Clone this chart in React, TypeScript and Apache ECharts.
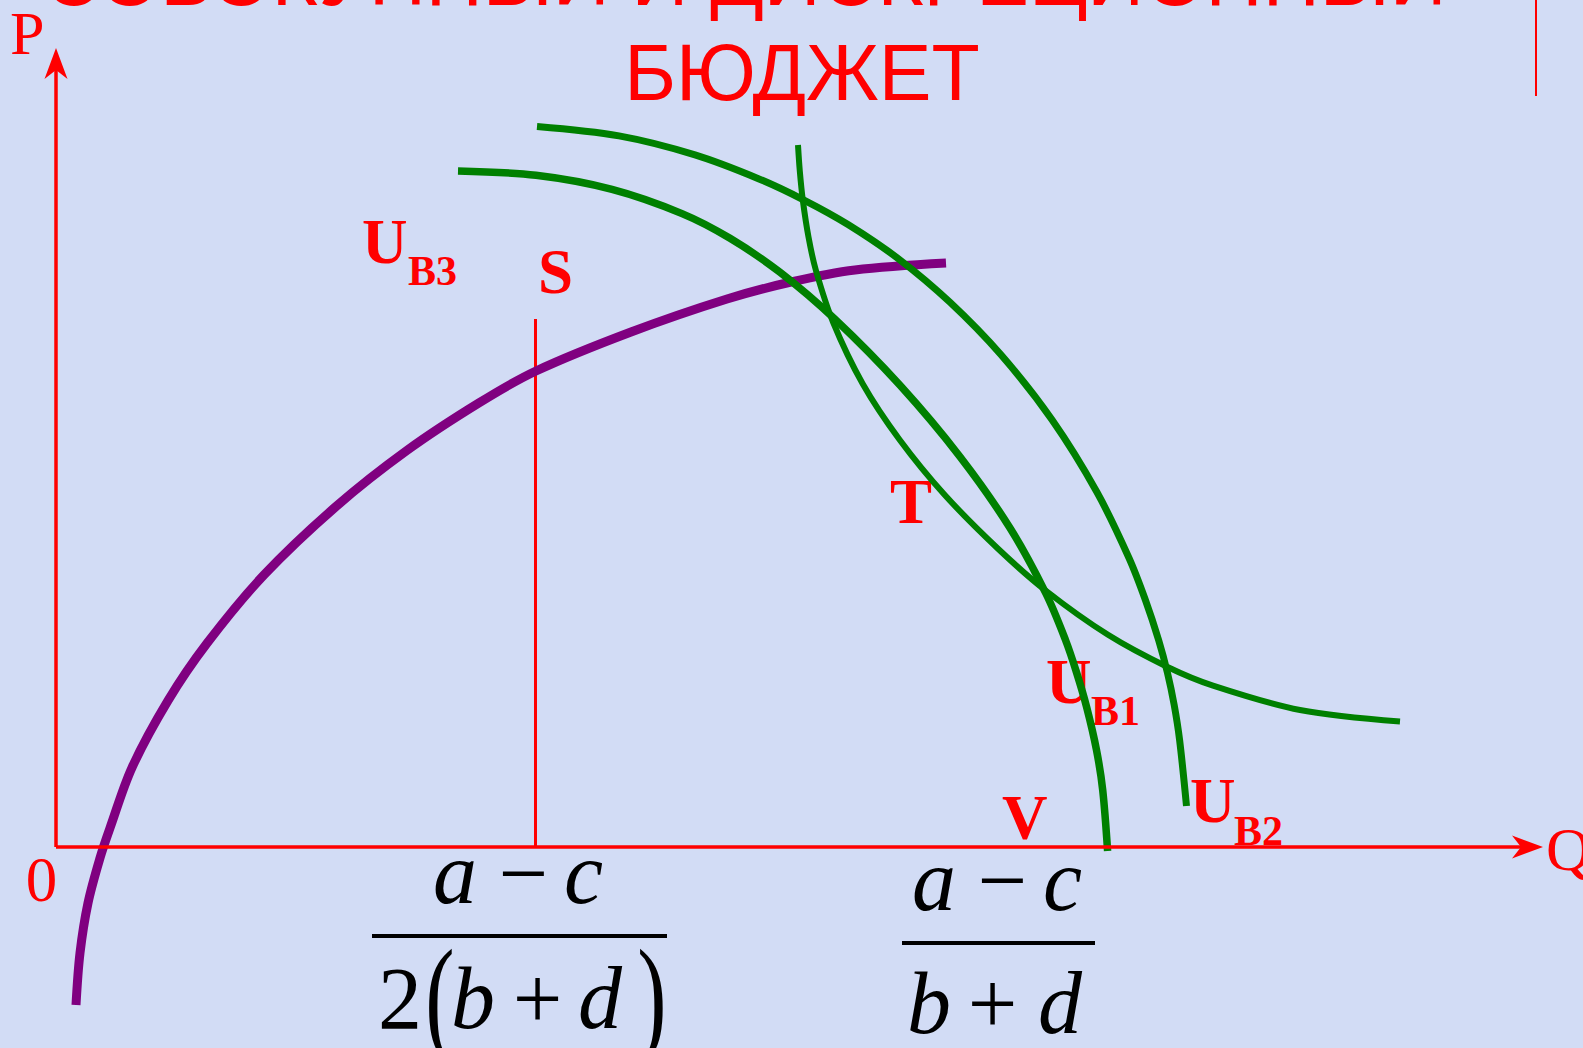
import React, { useEffect, useRef } from "react";
import * as echarts from "echarts";

// ---------- data (Q along horizontal axis, P along vertical axis) ----------
const titleLines = ["СОВОКУПНЫЙ И ДИСКРЕЦИОННЫЙ", "БЮДЖЕТ"];

const qRange = [-5.6, 152.7];
const pRange = [-20.1, 84.7];

// axis ends (arrow centres)
const qAxisEnd = 147.15;
const pAxisEnd = 78.35;

// vertical S line
const sLineQ = 47.95;
const sLineTop = 52.8;

// purple curve (budget / revenue)
const purpleCurve: [number, number][] = [
  [2.0, -15.8], [2.4, -10.6], [3.2, -5.6], [4.4, -1.1], [5.4, 1.9], [7.6, 7.94],
  [11.2, 14.64], [15.1, 20.37], [20.8, 27.21], [28.0, 34.05], [35.1, 39.66], [42.3, 44.41],
  [48.0, 47.6], [57.5, 51.5], [67.1, 54.8], [73.5, 56.5], [79.9, 57.7], [89.0, 58.4],
];

// green curve U_B1 (concave)
const curveUB1: [number, number][] = [
  [40.2, 67.6], [48.0, 67.17], [55.6, 65.76], [62.6, 63.34], [67.4, 60.87], [72.4, 57.47],
  [77.9, 52.77], [84.4, 46.17], [90.4, 39.03], [95.4, 31.9], [99.0, 25.33], [100.95, 20.7],
  [102.04, 17.5], [103.06, 14.0], [104.05, 9.7], [104.67, 5.7], [105.16, -0.4],
];

// green curve U_B2 (concave)
const curveUB2: [number, number][] = [
  [48.1, 72.05], [56.3, 71.11], [63.9, 69.21], [70.3, 66.81], [74.75, 64.72], [79.2, 62.25],
  [84.3, 58.78], [89.4, 54.47], [94.5, 49.22], [99.6, 42.72], [104.1, 35.47], [107.3, 28.9],
  [108.94, 24.7], [110.26, 20.7], [111.15, 17.4], [111.82, 14.2], [112.36, 10.7], [113.05, 4.1],
];

// green curve U_B3 (convex)
const curveUB3: [number, number][] = [
  [74.2, 70.2], [74.38, 67.6], [74.68, 64.7], [75.25, 61.0], [75.98, 57.7], [77.7, 52.5],
  [80.68, 46.3], [84.38, 40.7], [88.88, 35.2], [94.23, 29.8], [99.03, 25.6], [105.2, 21.22],
  [111.1, 18.03], [115.7, 16.14], [124.4, 13.7], [134.4, 12.55],
];

const RED = "#FF0000";
const GREEN = "#008000";
const PURPLE = "#800080";
const BG = "#D2DCF5";
const SERIF = '"Liberation Serif", "Times New Roman", serif';
const SANS = '"Liberation Sans", Arial, sans-serif';
const ARROW = "path://M11.5,0 L23,31 L11.5,22 L0,31 Z";

function txt(
  text: string,
  x: number,
  y: number,
  opts: { size: number; color?: string; bold?: boolean; italic?: boolean; family?: string; align?: string; scaleY?: number }
) {
  const align = opts.align || "left";
  const el: any = {
    type: "text",
    x,
    y,
    silent: true,
    style: {
      text,
      fill: opts.color || RED,
      fontSize: opts.size,
      fontFamily: opts.family || SERIF,
      fontWeight: opts.bold ? "bold" : "normal",
      fontStyle: opts.italic ? "italic" : "normal",
      align,
      textAlign: align,
      verticalAlign: "middle",
      textVerticalAlign: "middle",
    },
  };
  if (opts.scaleY) el.scaleY = opts.scaleY;
  return el;
}

function buildOption(): any {
  const graphic: any[] = [
    // title
    txt(titleLines[0], 745, -22.4, { size: 79, family: SANS, align: "center" }),
    txt(titleLines[1], 802, 72.6, { size: 79, family: SANS, align: "center" }),
    txt("С", 1574, -22.4, { size: 79, family: SANS, color: "#FF4000" }),
    {
      type: "line",
      silent: true,
      shape: { x1: 1536, y1: 0, x2: 1536, y2: 96 },
      style: { stroke: RED, lineWidth: 2 },
    },
    // axis letters
    txt("P", 10, 33, { size: 62 }),
    txt("0", 41.5, 880, { size: 63, align: "center" }),
    txt("Q", 1546, 849, { size: 62 }),
    // curve labels
    txt("U", 362, 241.7, { size: 63, bold: true }),
    txt("B3", 408, 270.8, { size: 42, bold: true }),
    txt("S", 538, 271.7, { size: 63, bold: true }),
    txt("T", 890, 501.7, { size: 63, bold: true }),
    txt("U", 1046, 681.7, { size: 63, bold: true }),
    txt("B1", 1091, 710.8, { size: 42, bold: true }),
    txt("V", 1002, 817.7, { size: 63, bold: true }),
    txt("U", 1190, 800.7, { size: 63, bold: true }),
    txt("B2", 1234, 830.8, { size: 42, bold: true }),
    // left fraction (a − c) / 2(b + d)
    txt("a", 455, 873.3, { size: 88, italic: true, color: "#000", align: "center" }),
    txt("−", 523.5, 873.3, { size: 88, color: "#000", align: "center" }),
    txt("c", 583.5, 873.3, { size: 88, italic: true, color: "#000", align: "center" }),
    { type: "rect", silent: true, shape: { x: 372, y: 934, width: 295, height: 4 }, style: { fill: "#000" } },
    txt("2", 400, 998.3, { size: 88, color: "#000", align: "center" }),
    txt("(", 440, 995, { size: 88, color: "#000", align: "center", scaleY: 1.5 }),
    txt("b", 473, 998.3, { size: 88, italic: true, color: "#000", align: "center" }),
    txt("+", 537.5, 998.3, { size: 88, color: "#000", align: "center" }),
    txt("d", 600, 998.3, { size: 88, italic: true, color: "#000", align: "center" }),
    txt(")", 652, 995, { size: 88, color: "#000", align: "center", scaleY: 1.5 }),
    // right fraction (a − c) / (b + d)
    txt("a", 934, 880.3, { size: 88, italic: true, color: "#000", align: "center" }),
    txt("−", 1002.5, 880.3, { size: 88, color: "#000", align: "center" }),
    txt("c", 1062.5, 880.3, { size: 88, italic: true, color: "#000", align: "center" }),
    { type: "rect", silent: true, shape: { x: 902, y: 941, width: 193, height: 4 }, style: { fill: "#000" } },
    txt("b", 929, 1003.3, { size: 88, italic: true, color: "#000", align: "center" }),
    txt("+", 992.5, 1003.3, { size: 88, color: "#000", align: "center" }),
    txt("d", 1060, 1003.3, { size: 88, italic: true, color: "#000", align: "center" }),
  ];

  const curve = (name: string, data: [number, number][], color: string, width: number) => ({
    name,
    type: "line",
    data,
    symbol: "none",
    smooth: 0.33,
    silent: true,
    clip: false,
    lineStyle: { color, width, cap: "butt" },
  });

  return {
    animation: false,
    backgroundColor: BG,
    grid: { left: 0, right: 0, top: 0, bottom: 0, containLabel: false },
    xAxis: {
      type: "value",
      min: qRange[0],
      max: qRange[1],
      show: false,
      splitLine: { show: false },
    },
    yAxis: {
      type: "value",
      min: pRange[0],
      max: pRange[1],
      show: false,
      splitLine: { show: false },
    },
    tooltip: { show: false },
    series: [
      {
        name: "axes",
        type: "line",
        data: [[0, 0]],
        symbol: "none",
        silent: true,
        lineStyle: { width: 0 },
        markLine: {
          silent: true,
          animation: false,
          symbol: ["none", ARROW],
          symbolSize: [23, 31],
          label: { show: false },
          lineStyle: { color: RED, width: 3.5, type: "solid" },
          itemStyle: { color: RED },
          emphasis: { disabled: true },
          data: [
            [{ coord: [0, 0] }, { coord: [qAxisEnd, 0] }],
            [{ coord: [0, 0] }, { coord: [0, pAxisEnd] }],
          ],
        },
      },
      {
        name: "S",
        type: "line",
        data: [[sLineQ, 0], [sLineQ, sLineTop]],
        symbol: "none",
        silent: true,
        lineStyle: { color: RED, width: 3 },
      },
      curve("budget", purpleCurve, PURPLE, 9),
      curve("UB3", curveUB3, GREEN, 6),
      curve("UB2", curveUB2, GREEN, 7),
      curve("UB1", curveUB1, GREEN, 7.5),
    ],
    graphic,
  };
}

export default function App() {
  const ref = useRef<HTMLDivElement>(null);
  useEffect(() => {
    document.body.style.margin = "0";
    document.body.style.background = BG;
    if (!ref.current) return;
    const chart = echarts.init(ref.current, null, { renderer: "svg" });
    chart.setOption(buildOption());
    return () => chart.dispose();
  }, []);
  return <div ref={ref} style={{ width: 1583, height: 1048, position: "absolute", left: 0, top: 0 }} />;
}
